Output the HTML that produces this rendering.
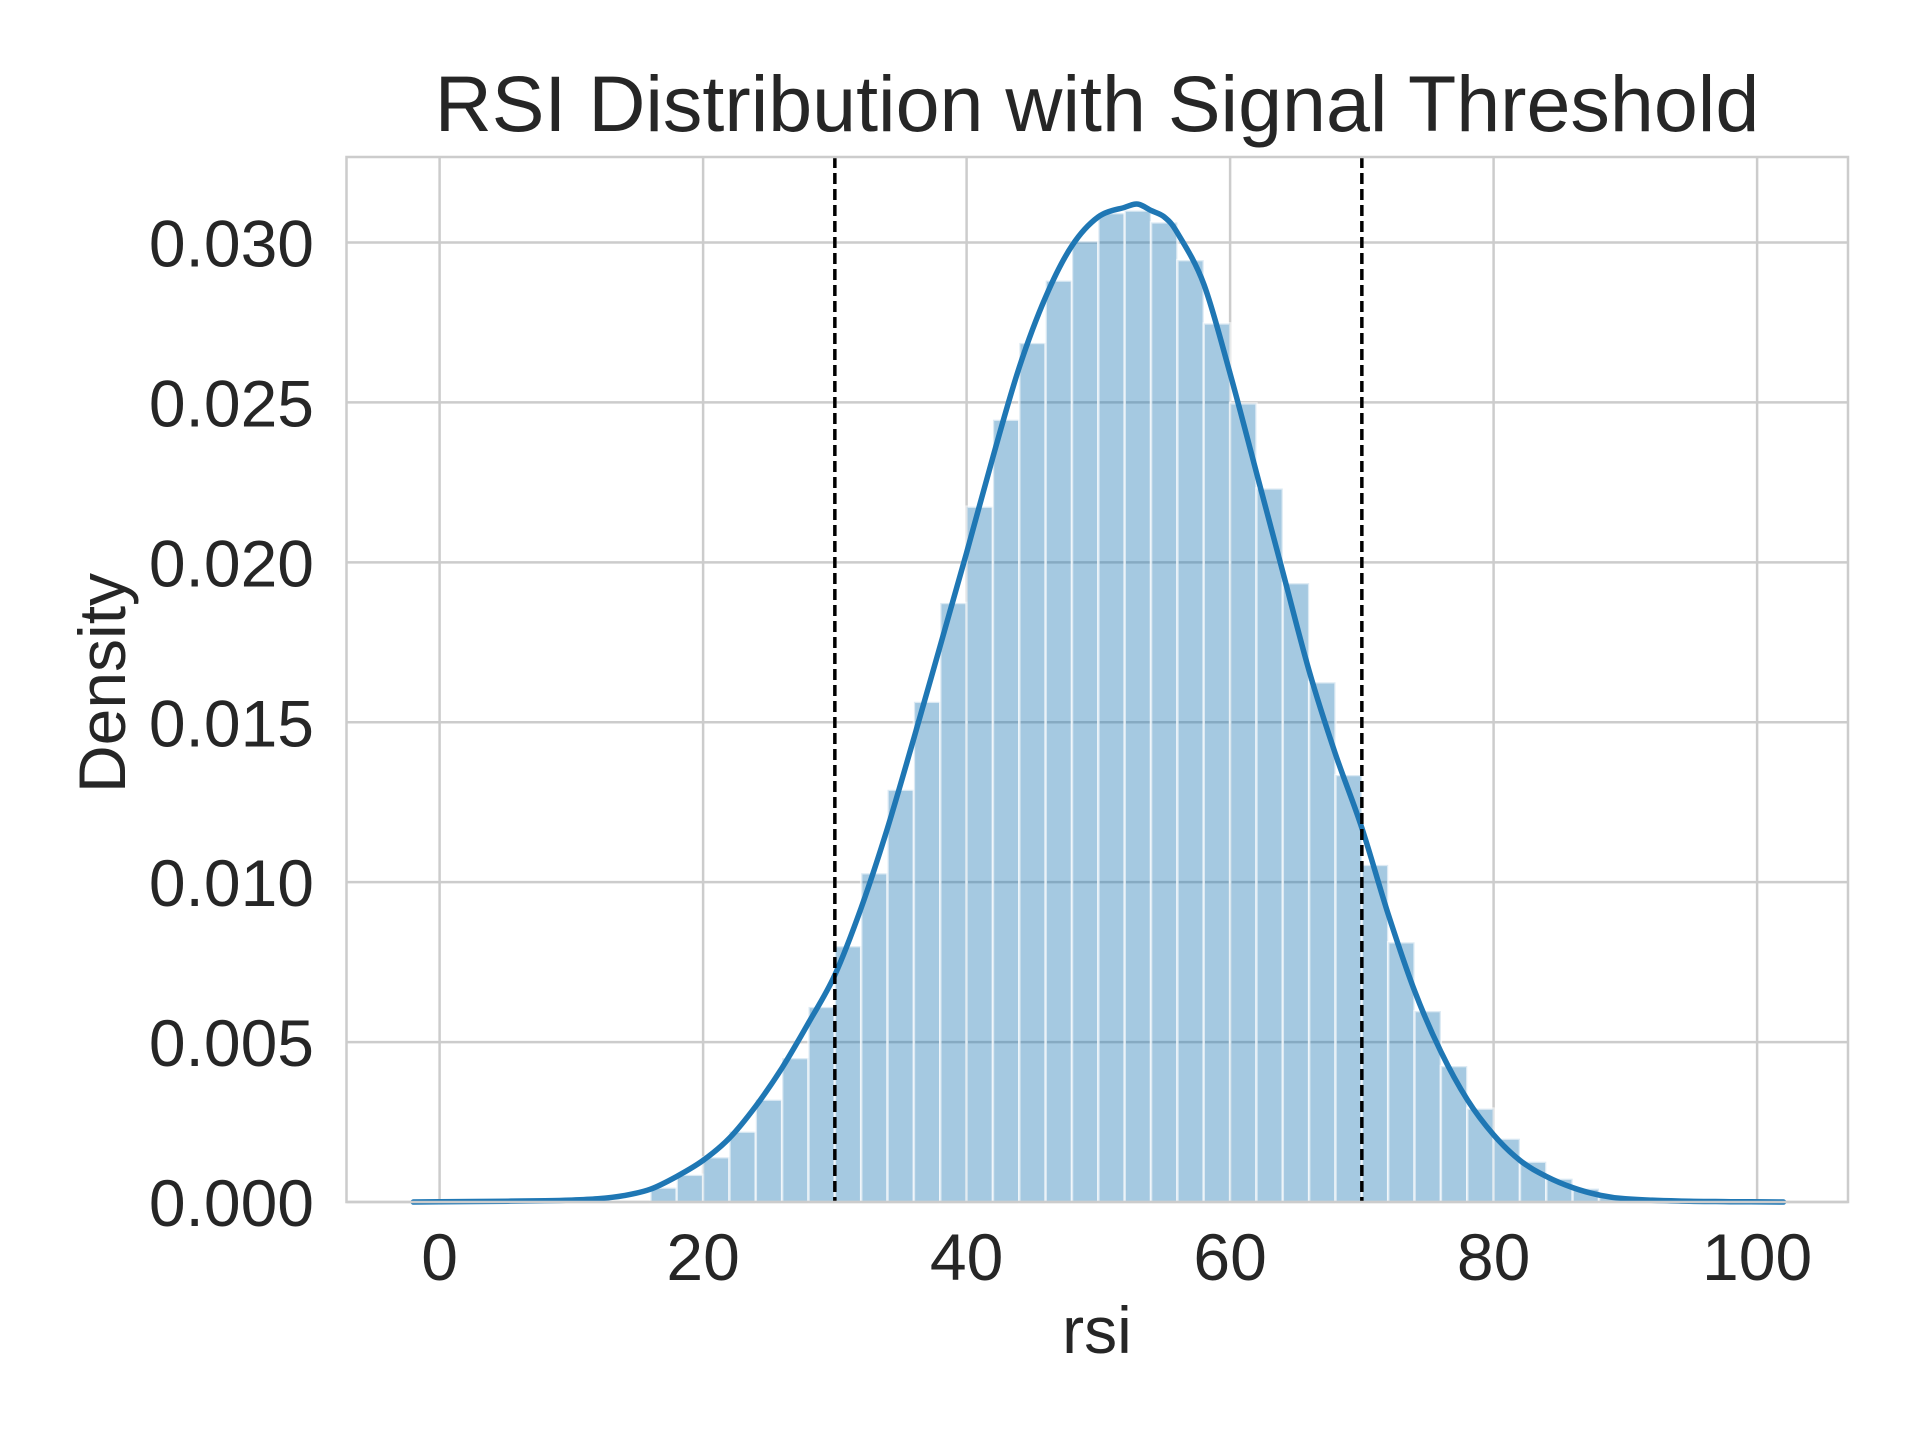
<!DOCTYPE html>
<html><head><meta charset="utf-8"><style>
html,body{margin:0;padding:0;background:#fff;}
svg{display:block;font-family:"Liberation Sans",sans-serif;}
</style></head><body>
<svg id="chart" width="1920" height="1440" viewBox="0 0 1920 1440" xmlns="http://www.w3.org/2000/svg">
<rect width="1920" height="1440" fill="#fff"/>
<g id="grid"></g>
<g id="bars"></g>
<g id="kde"></g>
<g id="vlines"></g>
<rect x="346.5" y="157" width="1501.5" height="1045" fill="none" stroke="#cccccc" stroke-width="2.5"/>
<g id="ticks"></g>
<text x="1097" y="131" font-size="79" fill="#262626" text-anchor="middle">RSI Distribution with Signal Threshold</text>
<text x="1097" y="1353" font-size="66" fill="#262626" text-anchor="middle">rsi</text>
<text x="102" y="683" font-size="66" fill="#262626" text-anchor="middle" transform="rotate(-90 102 683)" dominant-baseline="central">Density</text>
</svg>
<script>
const binEdgesStart = [16,18,20,22,24,26,28,30,32,34,36,38,40,42,44,46,48,50,52,54,56,58,60,62,64,66,68,70,72,74,76,78,80,82,84,86,88];
const binDensity = [0.00045,0.00085,0.0014,0.0022,0.0032,0.0045,0.0061,0.0080,0.01028,0.01289,0.01564,0.01873,0.02174,0.02446,0.02686,0.02881,0.03004,0.03092,0.0310,0.03063,0.02945,0.02747,0.02497,0.02231,0.01935,0.01625,0.01335,0.01054,0.00812,0.00597,0.00425,0.00292,0.00198,0.00126,0.00073,0.00042,0.00017];
const binWidth = 2;
const kdeX = [-2,0,4,8,10,12,14,16,18,20,22,24,26,28,30,32,34,36,38,40,42,44,46,48,50,52,53,54,55,56,58,60,62,64,66,68,70,72,74,76,78,80,82,84,86,88,90,94,98,102];
const kdeY = [0,0.00001,0.00002,0.00004,0.00006,0.0001,0.0002,0.0004,0.0008,0.0013,0.0020,0.0030,0.0042,0.0056,0.0071,0.0092,0.0117,0.0145,0.0174,0.0203,0.0233,0.0261,0.0283,0.0299,0.0308,0.0311,0.0312,0.0310,0.0308,0.0303,0.0287,0.0259,0.0228,0.0197,0.0166,0.0140,0.0117,0.0090,0.0066,0.0047,0.0032,0.0021,0.0013,0.0008,0.00045,0.00022,0.0001,0.00003,0.00001,0];
const thresholds = [30,70];
const xTicks = [0,20,40,60,80,100];
const yTicks = [0,0.005,0.010,0.015,0.020,0.025,0.030];
const yTickLabels = ["0.000","0.005","0.010","0.015","0.020","0.025","0.030"];

const NS="http://www.w3.org/2000/svg";
const X0=346.5,X1=1848,Y0=1202,Y1=157;
function sx(v){return 439.6+v*13.175;}
function sy(v){return 1202-v*31983;}
function mk(tag,attrs,parent){const e=document.createElementNS(NS,tag);for(const k in attrs)e.setAttribute(k,attrs[k]);parent.appendChild(e);return e;}
const grid=document.getElementById('grid'),bars=document.getElementById('bars'),kde=document.getElementById('kde'),vl=document.getElementById('vlines'),ticks=document.getElementById('ticks');
xTicks.forEach((t)=>{
  const l=mk('line',{x1:sx(t),x2:sx(t),y1:Y1,y2:Y0,stroke:'#cccccc','stroke-width':2.5},grid);
  
  
  const tx=mk('text',{x:sx(t),y:1280,'font-size':66,fill:'#262626','text-anchor':'middle'},ticks);
  tx.textContent=String(t);
  
  
});
yTicks.forEach((t,i)=>{
  const l=mk('line',{x1:X0,x2:X1,y1:sy(t),y2:sy(t),stroke:'#cccccc','stroke-width':2.5},grid);
  
  
  const tx=mk('text',{x:314,y:sy(t)+24,'font-size':66,fill:'#262626','text-anchor':'end'},ticks);
  tx.textContent=yTickLabels[i];
  
  
});
binEdgesStart.forEach((s,i)=>{
  const x=sx(s),w=sx(s+binWidth)-x,y=sy(binDensity[i]);
  const r=mk('rect',{x:x,y:y,width:w,height:Y0-y,fill:'#1f77b4','fill-opacity':0.4,stroke:'#ffffff','stroke-opacity':0.6,'stroke-width':2.5},bars);
  
  
});
const pts=kdeX.map((x,i)=>[sx(x),sy(kdeY[i])]);
let d='M'+pts[0][0].toFixed(1)+' '+pts[0][1].toFixed(1);
for(let i=0;i<pts.length-1;i++){
  const p0=pts[Math.max(0,i-1)],p1=pts[i],p2=pts[i+1],p3=pts[Math.min(pts.length-1,i+2)];
  const c1x=p1[0]+(p2[0]-p0[0])/6,c1y=p1[1]+(p2[1]-p0[1])/6;
  const c2x=p2[0]-(p3[0]-p1[0])/6,c2y=p2[1]-(p3[1]-p1[1])/6;
  d+='C'+c1x.toFixed(1)+' '+c1y.toFixed(1)+' '+c2x.toFixed(1)+' '+c2y.toFixed(1)+' '+p2[0].toFixed(1)+' '+p2[1].toFixed(1);
}
const p=mk('path',{d:d,fill:'none',stroke:'#1f77b4','stroke-width':5.5,'stroke-linejoin':'round','stroke-linecap':'round'},kde);


thresholds.forEach((t)=>{
  const l=mk('line',{x1:sx(t),x2:sx(t),y1:Y1,y2:Y0,stroke:'#000','stroke-width':3.5,'stroke-dasharray':'11 5'},vl);
  
  
});
</script>
</body></html>
